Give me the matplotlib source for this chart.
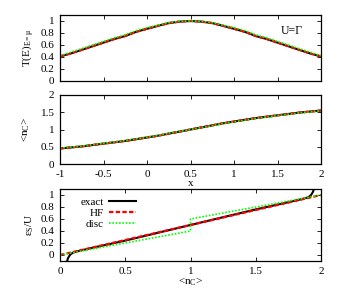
import matplotlib
matplotlib.use('Agg')
import matplotlib.pyplot as plt
import numpy as np

plt.rcParams['font.family'] = ['Liberation Serif', 'DejaVu Serif']
plt.rcParams['mathtext.fontset'] = 'custom'
plt.rcParams['mathtext.rm'] = 'Liberation Serif'
plt.rcParams['mathtext.it'] = 'Liberation Serif:italic'
plt.rcParams['font.size'] = 8

# panel 1 / 2 : vs gate parameter x
x = [-1.0, -0.875, -0.75, -0.625, -0.5, -0.375, -0.25, -0.125, 0.0, 0.125, 0.25, 0.375, 0.5,
     0.625, 0.75, 0.875, 1.0, 1.125, 1.25, 1.375, 1.5, 1.625, 1.75, 1.875, 2.0]
T_exact = [0.41, 0.46, 0.52, 0.58, 0.64, 0.70, 0.75, 0.82, 0.87, 0.92, 0.965, 0.99, 1.0,
           0.99, 0.965, 0.92, 0.87, 0.82, 0.75, 0.70, 0.64, 0.58, 0.52, 0.46, 0.41]
T_hf = [0.41, 0.46, 0.52, 0.58, 0.64, 0.70, 0.75, 0.82, 0.87, 0.92, 0.965, 0.99, 1.0,
        0.99, 0.965, 0.92, 0.87, 0.82, 0.75, 0.70, 0.64, 0.58, 0.52, 0.46, 0.41]
T_disc = [0.42, 0.48, 0.54, 0.60, 0.66, 0.72, 0.77, 0.84, 0.89, 0.93, 0.975, 0.995, 1.0,
          0.995, 0.975, 0.93, 0.89, 0.84, 0.77, 0.72, 0.66, 0.60, 0.54, 0.48, 0.42]
n_exact = [0.45, 0.48, 0.51, 0.55, 0.59, 0.63, 0.67, 0.72, 0.77, 0.82, 0.88, 0.94, 1.0,
           1.06, 1.12, 1.18, 1.23, 1.28, 1.33, 1.37, 1.41, 1.45, 1.49, 1.52, 1.55]
n_hf = list(n_exact)
n_disc = [0.46, 0.49, 0.52, 0.56, 0.60, 0.64, 0.68, 0.73, 0.78, 0.83, 0.89, 0.945, 1.0,
          1.055, 1.11, 1.17, 1.22, 1.27, 1.32, 1.36, 1.40, 1.44, 1.48, 1.51, 1.54]

# panel 3 : eps_s/U vs <n_C>
nc_exact = [0.055, 0.06, 0.07, 0.08, 0.1, 0.15, 0.25, 0.5, 0.75, 1.0, 1.25, 1.5, 1.75, 1.85, 1.9, 1.92, 1.93, 1.94, 1.945]
e_exact = [-0.1, -0.06, -0.02, 0.01, 0.04, 0.07, 0.12, 0.24, 0.37, 0.5, 0.63, 0.76, 0.88, 0.93, 0.96, 0.99, 1.02, 1.06, 1.1]
nc_hf = [0.0, 0.5, 1.0, 1.5, 2.0]
e_hf = [0.0, 0.25, 0.5, 0.75, 1.0]
nc_disc = [0.0, 0.5, 1.0, 1.0, 1.5, 2.0]
e_disc = [0.0, 0.2, 0.4, 0.6, 0.8, 1.0]

W, H = 349, 294
fig = plt.figure(figsize=(W / 100, H / 100), dpi=100)

def px_axes(l, t, r, b):
    return fig.add_axes([l / W, 1 - b / H, (r - l) / W, (b - t) / H])

ax1 = px_axes(60, 15, 321, 81)
ax2 = px_axes(60, 95, 321, 164)
ax3 = px_axes(60, 189, 321, 261)

for ax in (ax1, ax2, ax3):
    ax.tick_params(direction='in', top=True, right=True, length=3, width=0.6, pad=4)
    for s in ax.spines.values():
        s.set_linewidth(0.9)

lw_k, lw_r, lw_g = 1.5, 1.6, 1.2
ax1.plot(x, T_exact, color='black', lw=lw_k)
ax1.plot(x, T_hf, color='#ff0000', lw=lw_r, ls=(0, (2, 1)))
ax1.plot(x, T_disc, color='#00ff00', lw=lw_g, ls=(0, (1, 1)))
ax1.set_xlim(-1, 2)
ax1.set_ylim(0, 1.1)
ax1.set_yticks([0, 0.2, 0.4, 0.6, 0.8, 1])
ax1.set_yticklabels(['0', '0.2', '0.4', '0.6', '0.8', '1'])
ax1.set_xticks([-1, -0.5, 0, 0.5, 1, 1.5, 2])
ax1.set_xticklabels([])
ax1.set_ylabel('T(E)$_{\\mathrm{E=}}$$_{\\mathrm{μ}}$', labelpad=3)
ax1.text(0.93, 0.75, 'U=Γ', transform=ax1.transAxes, ha='right', va='center', fontsize=8.5)

ax2.plot(x, n_exact, color='black', lw=lw_k)
ax2.plot(x, n_hf, color='#ff0000', lw=lw_r, ls=(0, (2, 1)))
ax2.plot(x, n_disc, color='#00ff00', lw=lw_g, ls=(0, (1, 1)))
ax2.set_xlim(-1, 2)
ax2.set_ylim(0, 2)
ax2.set_yticks([0, 0.5, 1, 1.5, 2])
ax2.set_yticklabels(['0', '0.5', '1', '1.5', '2'])
ax2.set_xticks([-1, -0.5, 0, 0.5, 1, 1.5, 2])
ax2.set_xticklabels(['-1', '-0.5', '0', '0.5', '1', '1.5', '2'])
ax2.set_xlabel('x', labelpad=0)
ax2.set_ylabel('<n$_{\\mathrm{C}}$>', labelpad=6)

ax3.plot(nc_exact, e_exact, color='black', lw=lw_k, label='exact')
ax3.plot(nc_hf, e_hf, color='#ff0000', lw=lw_r, ls=(0, (2, 1)), label='HF')
ax3.plot(nc_disc, e_disc, color='#00ff00', lw=lw_g, ls=(0, (1, 1)), label='disc')
ax3.set_xlim(0, 2)
ax3.set_ylim(-0.1, 1.1)
ax3.set_yticks([0, 0.2, 0.4, 0.6, 0.8, 1])
ax3.set_yticklabels(['0', '0.2', '0.4', '0.6', '0.8', '1'])
ax3.set_xticks([0, 0.5, 1, 1.5, 2])
ax3.set_xticklabels(['0', '0.5', '1', '1.5', '2'])
ax3.set_xlabel('<n$_{\\mathrm{C}}$>', labelpad=0)
ax3.set_ylabel('ε$_{\\mathrm{S}}$/U', labelpad=3)
ax3.legend(loc='upper left', bbox_to_anchor=(0.04, 1.02), frameon=False, markerfirst=False,
           handlelength=2.4, handletextpad=0.5, labelspacing=0.1, fontsize=8)

fig.savefig('out.png', dpi=100)
